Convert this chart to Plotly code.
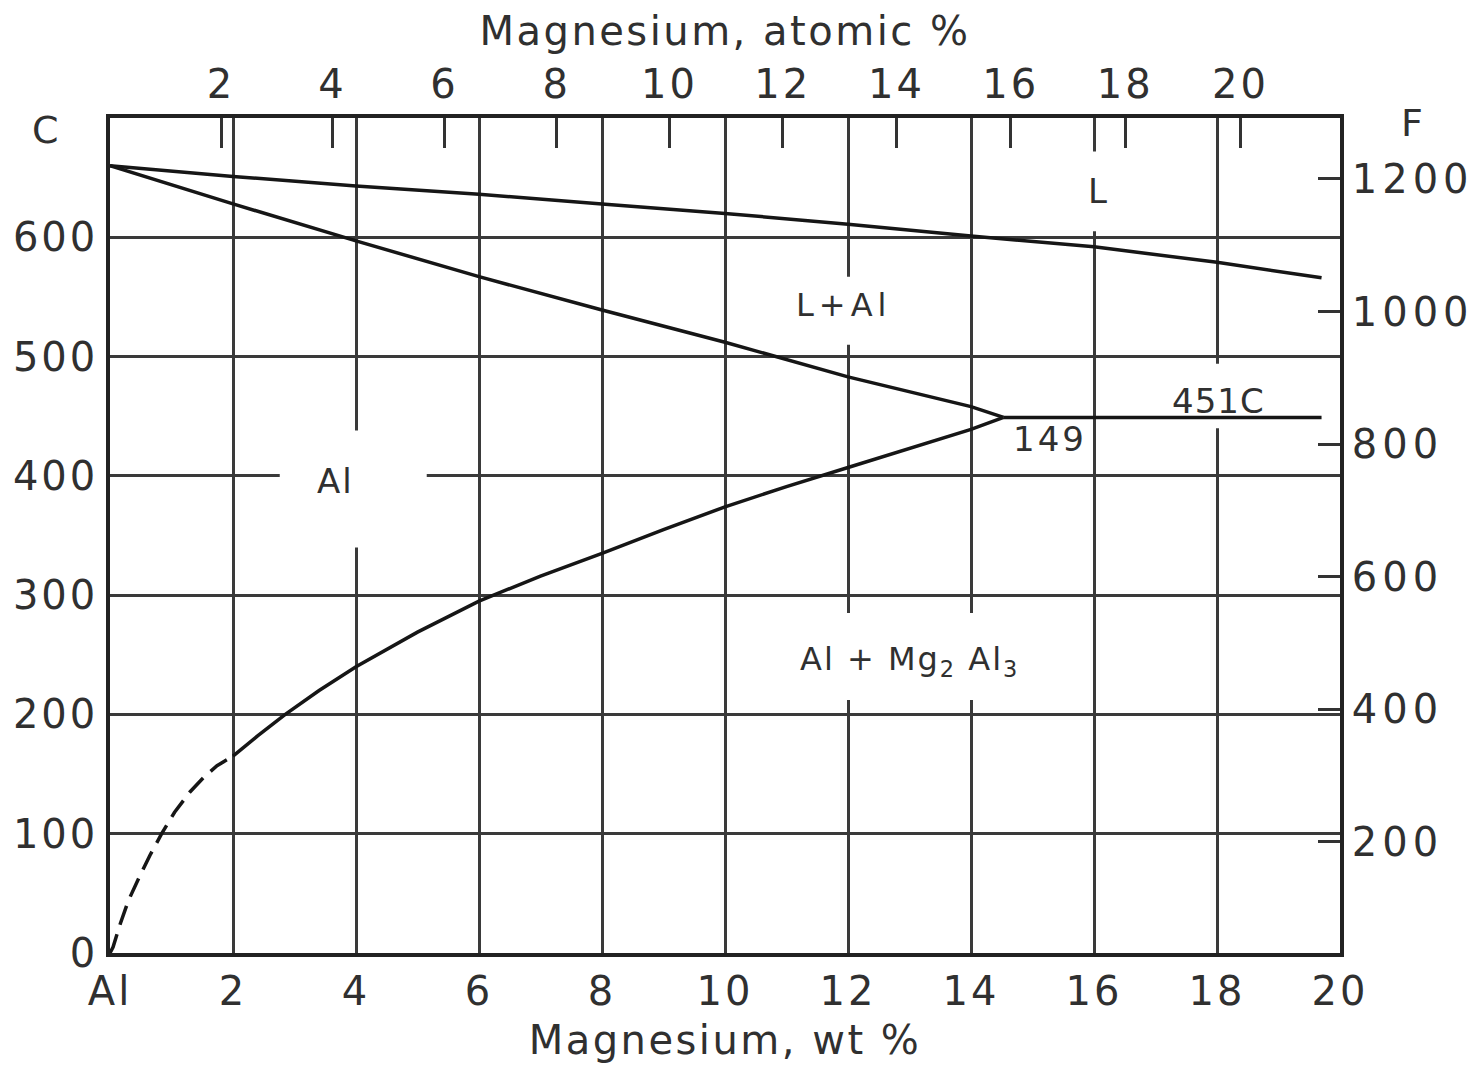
import plotly.graph_objects as go

# ---- data ----
liquidus_wt = [0, 2, 4, 6, 8, 10, 12, 14, 16, 18, 19.7]
liquidus_c = [660, 651, 643, 636, 628, 620, 611, 601, 592, 579, 566]

solidus_wt = [0, 2, 4, 6, 8, 10, 12, 14, 14.53]
solidus_c = [660, 628, 597, 567, 539, 512, 483, 458, 449]

solvus_wt = [2, 2.4, 2.85, 3.4, 4, 5, 6, 7, 8, 9, 10, 11, 12, 13, 14, 14.53]
solvus_c = [165, 182, 200, 220, 240, 269, 295, 316, 335, 355, 374, 391, 407, 423, 439, 449]

solvus_dash_wt = [0, 0.05, 0.17, 0.3, 0.47, 0.65, 0.84, 1.05, 1.3, 1.52, 1.74, 2]
solvus_dash_c = [0, 5, 25, 44, 63, 82, 100, 118, 135, 147, 157, 165]

eutectic_wt = [14.53, 19.7]
eutectic_c = [449, 449]

wt_ticks = [0, 2, 4, 6, 8, 10, 12, 14, 16, 18, 20]
wt_labels = ["Al", "2", "4", "6", "8", "10", "12", "14", "16", "18", "20"]
c_ticks = [0, 100, 200, 300, 400, 500, 600]
f_ticks = [200, 400, 600, 800, 1000, 1200]
at_ticks = [2, 4, 6, 8, 10, 12, 14, 16, 18, 20]

M_MG, M_AL = 24.305, 26.982


def at_to_wt(a):
    return 100 * a * M_MG / (a * M_MG + (100 - a) * M_AL)


def sp(t, ls=3):
    return f'<span style="letter-spacing:{ls}px">{t}</span>'


FONT = "DejaVu Sans"
TXT = "#303030"
GRID = "#3a3a3a"
LINE = "#161616"

fig = go.Figure()

for xs, ys in [(liquidus_wt, liquidus_c), (solidus_wt, solidus_c),
               (solvus_wt, solvus_c), (eutectic_wt, eutectic_c)]:
    fig.add_trace(go.Scatter(x=xs, y=ys, mode="lines",
                             line=dict(color=LINE, width=3.5), showlegend=False))
fig.add_trace(go.Scatter(x=solvus_dash_wt, y=solvus_dash_c, mode="lines",
                         line=dict(color=LINE, width=3.5, dash="20px,10px"),
                         showlegend=False))
# activate secondary axes
fig.add_trace(go.Scatter(x=[0], y=[0], xaxis="x2", yaxis="y", mode="markers",
                         marker=dict(opacity=0), showlegend=False, hoverinfo="skip"))
fig.add_trace(go.Scatter(x=[0], y=[32], xaxis="x", yaxis="y2", mode="markers",
                         marker=dict(opacity=0), showlegend=False, hoverinfo="skip"))

# white gaps in the grid around the labels
gaps = [
    (2.76, 5.15, 340, 438),
    (11.06, 12.68, 510, 567),
    (15.67, 16.5, 605, 672),
    (17.7, 18.45, 440, 494),
    (11.2, 14.96, 212, 285),
]
for x0, x1, y0, y1 in gaps:
    fig.add_shape(type="rect", xref="x", yref="y", x0=x0, x1=x1, y0=y0, y1=y1,
                  fillcolor="white", line=dict(width=0), layer="between")

labels = [
    (16.07, 639, "L", 34, 2),
    (11.92, 543, "L+Al", 32, 5),
    (3.66, 396, "Al", 34, 2),
    (15.28, 431, "149", 34, 3),
    (18.02, 463, "451C", 34, 1),
    (13.0, 245, "Al + Mg<sub>2</sub> Al<sub>3</sub>", 32, 2),
]
for x, y, t, s, ls in labels:
    fig.add_annotation(x=x, y=y, xref="x", yref="y", text=sp(t, ls), showarrow=False,
                       font=dict(family=FONT, size=s, color=TXT))

fig.add_annotation(x=(45 - 110) / 1230, y=690, xref="paper", yref="y", text="C",
                   xanchor="center", showarrow=False,
                   font=dict(family=FONT, size=38, color=TXT))
fig.add_annotation(x=1.0, y=696, xref="paper", yref="y", xshift=72, text="F",
                   xanchor="center", showarrow=False,
                   font=dict(family=FONT, size=38, color=TXT))

fig.update_layout(
    width=1474, height=1061,
    margin=dict(l=102, r=142, t=110, b=116),
    paper_bgcolor="white", plot_bgcolor="white",
    font=dict(family=FONT, size=40, color=TXT),
    xaxis=dict(range=[0, 20], tickvals=wt_ticks, ticktext=[sp(t) for t in wt_labels],
               showgrid=True, gridcolor=GRID, gridwidth=2.5, zeroline=False,
               showline=True, linecolor="#222", linewidth=3.5, ticks="",
               ticklabelstandoff=0, automargin=False,
               title=dict(text=sp("Magnesium, wt %", 2.5), standoff=14,
                          font=dict(size=40))),
    yaxis=dict(range=[0, 700], tickvals=c_ticks, ticktext=[sp(str(t)) for t in c_ticks],
               showgrid=True, gridcolor=GRID, gridwidth=2.5, zeroline=False,
               showline=True, linecolor="#222", linewidth=3.5, automargin=False,
               ticks=""),
    xaxis2=dict(overlaying="x", side="top", anchor="y", range=[0, 20],
                tickvals=[at_to_wt(a) for a in at_ticks],
                ticktext=[sp(str(a)) for a in at_ticks], automargin=False,
                showgrid=False, zeroline=False, showline=True, linecolor="#222",
                linewidth=3.5, ticks="inside", ticklen=30, tickwidth=2.5, tickcolor="#333",
                title=dict(text=sp("Magnesium, atomic %", 2.5), standoff=12,
                           font=dict(size=40))),
    yaxis2=dict(overlaying="y", side="right", anchor="x", range=[32, 32 + 700 * 1.8],
                tickvals=f_ticks, ticktext=[sp(str(t), 5) for t in f_ticks],
                automargin=False,
                showgrid=False, zeroline=False, showline=True, linecolor="#222",
                linewidth=3.5, ticks="inside", ticklen=22, tickwidth=2.5, tickcolor="#333"),
)

fig.write_html("out.html")
